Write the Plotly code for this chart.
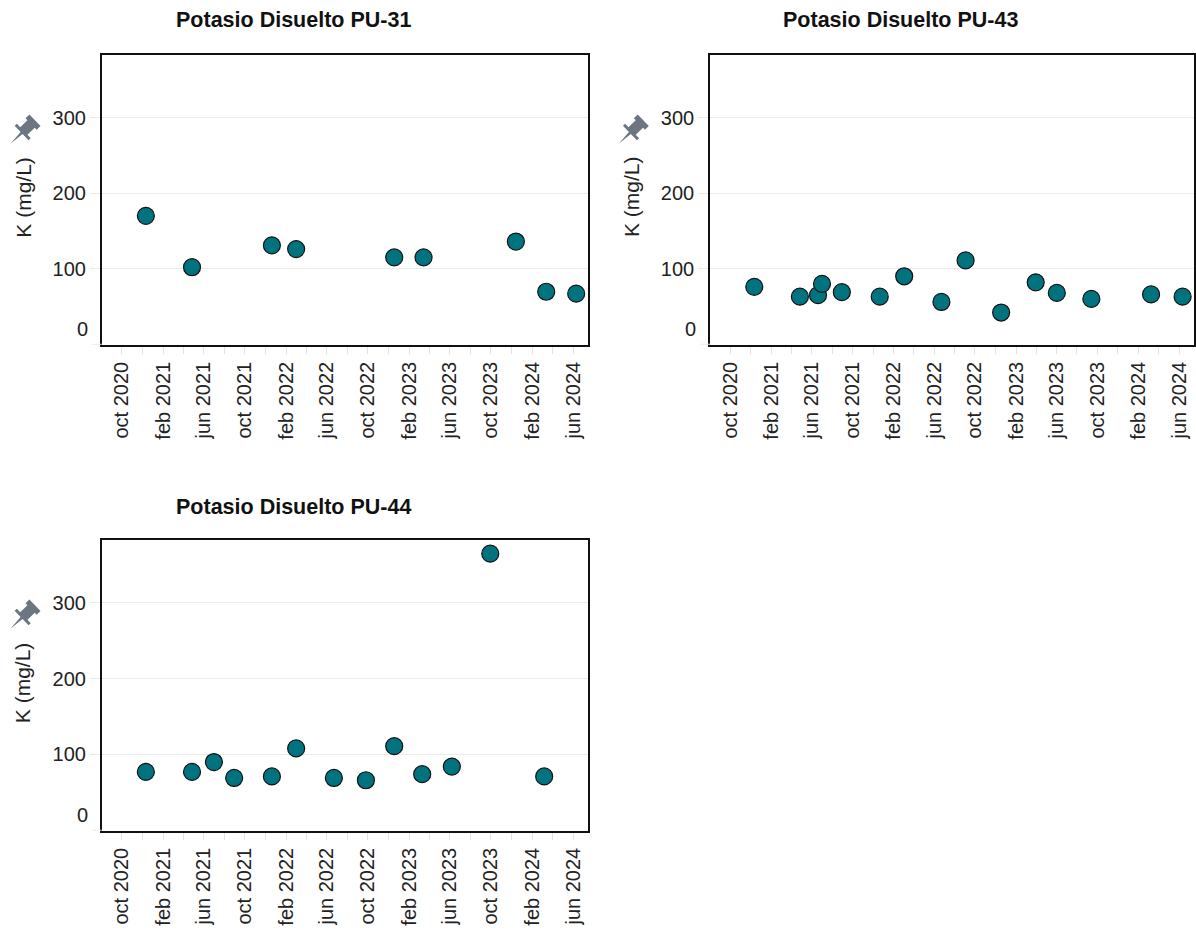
import math
import plotly.graph_objects as go

# ---------------- data ----------------
PU31_DATES = ["2020-12-11", "2021-04-27", "2021-12-20", "2022-03-02", "2022-12-18",
              "2023-03-15", "2023-12-14", "2024-03-13", "2024-06-10"]
PU31_K = [170, 102, 131, 126, 115, 115, 136, 69.5, 67]

PU43_DATES = ["2020-12-12", "2021-04-27", "2021-06-20", "2021-07-02", "2021-08-30",
              "2021-12-21", "2022-03-04", "2022-06-23", "2022-09-03", "2022-12-18",
              "2023-03-31", "2023-06-02", "2023-09-13", "2024-03-09", "2024-06-11"]
PU43_K = [76, 63, 65, 80, 69, 63, 90, 56, 111, 42, 82, 68, 60, 66, 63]

PU44_DATES = ["2020-12-11", "2021-04-27", "2021-07-01", "2021-08-30", "2021-12-20",
              "2022-03-02", "2022-06-22", "2022-09-25", "2022-12-18", "2023-03-11",
              "2023-06-07", "2023-09-29", "2024-03-07"]
PU44_K = [77, 77, 90, 69, 71, 108, 69, 66, 111, 74, 84, 365, 71]

TITLES = ["Potasio Disuelto PU-31", "Potasio Disuelto PU-43", "Potasio Disuelto PU-44"]
Y_TITLE = "K (mg/L)"
TICK_DATES = ["2020-10-01", "2021-02-01", "2021-06-01", "2021-10-01", "2022-02-01",
              "2022-06-01", "2022-10-01", "2023-02-01", "2023-06-01", "2023-10-01",
              "2024-02-01", "2024-06-01"]
TICK_LABELS = ["oct 2020", "feb 2021", "jun 2021", "oct 2021", "feb 2022", "jun 2022",
               "oct 2022", "feb 2023", "jun 2023", "oct 2023", "feb 2024", "jun 2024"]
Y_TICKS = [0, 100, 200, 300]
Y_TICK_LABELS = ["0", "100", "200", "300"]
X_RANGE = ["2020-08-02", "2024-07-15"]
Y_RANGE = [-1, 383]

# ---------------- layout geometry (page pixels) ----------------
W, H = 1196, 936
OFF = 0            # body margin removed by the page script below
FONT = "Arial, Liberation Sans, sans-serif"
FS = 20
FS_TITLE = 21.5
TEAL = "#00737f"
TXT = "#222222"
GRID = "#ebebeb"

def fx(x):
    return (x - OFF) / W

def fy(y):
    return 1 - (y - OFF) / H

panels = [
    dict(dates=PU31_DATES, vals=PU31_K, box=(101.7, 55, 588, 345), col=(0, 586), title_y=20),
    dict(dates=PU43_DATES, vals=PU43_K, box=(710, 55, 1194, 345), col=(604, 1196), title_y=20),
    dict(dates=PU44_DATES, vals=PU44_K, box=(101.7, 540, 588, 831), col=(0, 586), title_y=507),
]

fig = go.Figure()
annotations = []
shapes = []

def pin_path(cx, cy, s=1.55):
    # push-pin silhouette, needle pointing to lower-left
    d = (0.72, -0.69)
    p = (0.69, 0.72)
    prof = [(0, 0), (10, -0.9), (10, -6.5), (12, -6.5), (12, -3.4), (18.5, -3.4),
            (18.5, -5.2), (22, -5.2), (22, 5.2), (18.5, 5.2), (18.5, 3.4), (12, 3.4), (12, 6.5),
            (10, 6.5), (10, 0.9)]
    pts = []
    for u, v in prof:
        uu = (u - 11) * s
        vv = v * s
        x = cx + uu * d[0] + vv * p[0]
        y = cy + uu * d[1] + vv * p[1]
        pts.append((fx(x), fy(y)))
    return "M " + " L ".join(f"{a:.5f},{b:.5f}" for a, b in pts) + " Z"

for i, pn in enumerate(panels):
    sfx = "" if i == 0 else str(i + 1)
    l, t, r, b = pn["box"]
    fig.add_trace(go.Scatter(
        x=pn["dates"], y=pn["vals"], mode="markers",
        marker=dict(size=17, color=TEAL, line=dict(color="#111111", width=1.2)),
        xaxis="x" + sfx, yaxis="y" + sfx, showlegend=False,
        hovertemplate="%{x|%d %b %Y}<br>K: %{y} mg/L<extra></extra>",
    ))
    xa = dict(
        domain=[fx(l), min(1.0, fx(r))], anchor="y" + sfx, type="date", range=X_RANGE,
        tickmode="array", tickvals=TICK_DATES, ticktext=TICK_LABELS, tickangle=-90,
        ticks="outside", ticklen=7, tickcolor="#e3e3e3", tickwidth=1,
        tickfont=dict(family=FONT, size=FS, color=TXT),
        showgrid=False, zeroline=False,
        showline=True, linecolor="#111111", linewidth=1.6, mirror=True,
        minor=dict(ticks="outside", ticklen=7, tickcolor="#e3e3e3", tickwidth=1,
                   dtick="M2", tick0="2020-08-01", showgrid=False),
        fixedrange=True,
    )
    ya = dict(
        domain=[fy(b), fy(t)], anchor="x" + sfx, range=Y_RANGE,
        tickmode="array", tickvals=Y_TICKS[1:], ticktext=Y_TICK_LABELS[1:],
        ticks="outside", ticklen=10, tickcolor=GRID, tickwidth=1,
        tickfont=dict(family=FONT, size=FS, color=TXT),
        showgrid=True, gridcolor=GRID, gridwidth=1, zeroline=False,
        showline=True, linecolor="#111111", linewidth=1.6, mirror=True,
        fixedrange=True,
    )
    fig.update_layout(**{"xaxis" + sfx: xa, "yaxis" + sfx: ya})

    # zero tick: stub + shifted label
    shapes.append(dict(type="line", xref="paper", yref="y" + sfx,
                       x0=fx(l - 10), x1=fx(l), y0=Y_TICKS[0], y1=Y_TICKS[0],
                       line=dict(color=GRID, width=1)))
    annotations.append(dict(text=Y_TICK_LABELS[0], xref="paper", yref="y" + sfx,
                            x=fx(l - 12), y=Y_TICKS[0], xanchor="right", yanchor="middle",
                            yshift=15, showarrow=False,
                            font=dict(family=FONT, size=FS, color=TXT)))
    # panel title
    annotations.append(dict(text="<b>" + TITLES[i] + "</b>", xref="paper", yref="paper",
                            x=fx((pn["col"][0] + pn["col"][1]) / 2), y=fy(pn["title_y"]),
                            xanchor="center", yanchor="middle", showarrow=False,
                            font=dict(family=FONT, size=FS_TITLE, color="#111111")))
    # y-axis title
    annotations.append(dict(text=Y_TITLE, xref="paper", yref="paper",
                            x=fx(l - 79), y=fy((t + b) / 2 - 3), textangle=-90,
                            xanchor="center", yanchor="middle", showarrow=False,
                            font=dict(family=FONT, size=21, color=TXT)))
    # pin icon
    shapes.append(dict(type="path", xref="paper", yref="paper",
                       path=pin_path(l - 79, t + 77),
                       fillcolor="#6c7683", line=dict(width=0)))

fig.update_layout(
    width=W, height=H, autosize=False,
    margin=dict(l=0, r=0, t=0, b=0),
    paper_bgcolor="white", plot_bgcolor="white",
    annotations=annotations, shapes=shapes,
    font=dict(family=FONT, size=FS, color=TXT),
    showlegend=False,
)

fig.write_html(
    "out.html",
    config={"displayModeBar": False},
    post_script=("document.body.style.margin='0px';"
                 "document.body.style.overflow='hidden';"
                 "document.documentElement.style.overflow='hidden';"),
)
